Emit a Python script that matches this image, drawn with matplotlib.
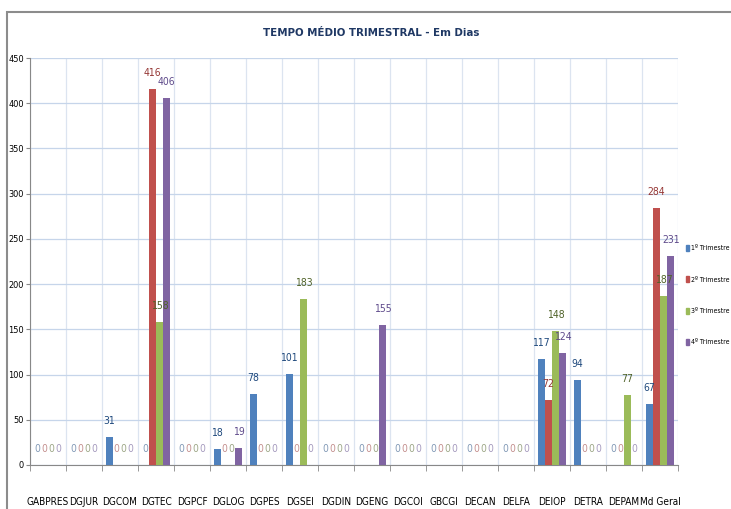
import matplotlib
matplotlib.use("Agg")
import matplotlib.pyplot as plt
import numpy as np
from matplotlib.patches import Rectangle, Patch
from matplotlib import font_manager as fm

categories = ["GABPRES", "DGJUR", "DGCOM", "DGTEC", "DGPCF", "DGLOG", "DGPES", "DGSEI", "DGDIN",
              "DGENG", "DGCOI", "GBCGI", "DECAN", "DELFA", "DEIOP", "DETRA", "DEPAM", "Md Geral"]
t1 = [0, 0, 31, 0, 0, 18, 78, 101, 0, 0, 0, 0, 0, 0, 117, 94, 0, 67]
t2 = [0, 0, 0, 416, 0, 0, 0, 0, 0, 0, 0, 0, 0, 0, 72, 0, 0, 284]
t3 = [0, 0, 0, 158, 0, 0, 0, 183, 0, 0, 0, 0, 0, 0, 148, 0, 77, 187]
t4 = [0, 0, 0, 406, 0, 19, 0, 0, 0, 155, 0, 0, 0, 0, 124, 0, 0, 231]
series_names = ["1º Trimestre", "2º Trimestre", "3º Trimestre", "4º Trimestre"]
yticks = list(range(0, 451, 50))

colors = ["#4F81BD", "#C0504D", "#9BBB59", "#8064A2"]
label_colors = ["#1F497D", "#953735", "#4F6228", "#5F4B8B"]

# pick a condensed font if one is installed
cands = []
for f in fm.fontManager.ttflist:
    st = str(f.stretch).lower()
    nm = f.name.lower()
    if ("condensed" in st or "narrow" in nm or "condensed" in nm) and f.style == "normal":
        cands.append(f)
reg = [f for f in cands if f.weight in (400, "normal", "regular")]
pick = reg[0] if reg else (cands[0] if cands else None)
if pick is not None:
    cond_prop = fm.FontProperties(fname=pick.fname)
    scale = 1.0
else:
    cond_prop = fm.FontProperties(family="Liberation Sans")
    scale = 0.82

def fp(size):
    p = cond_prop.copy()
    p.set_size(size * scale)
    return p

bold_pick = [f for f in cands if f.weight in (700, "bold")]
if bold_pick:
    title_prop = fm.FontProperties(fname=bold_pick[0].fname, size=8.2)
else:
    title_prop = fp(8.2)
    title_prop.set_weight("bold")

fig = plt.figure(figsize=(7.31, 5.09), dpi=100)
ax = fig.add_axes([30/731, 1-465/509, 648/731, 407/509])

n = len(categories)
x = np.arange(n)
w = 0.2
data = [t1, t2, t3, t4]
for i, (vals, c, lc) in enumerate(zip(data, colors, label_colors)):
    pos = x + (i - 1.5) * w
    ax.bar(pos, vals, width=w, color=c, zorder=3)
    for p, v in zip(pos, vals):
        ax.annotate(str(v), (p, v), xytext=(0, 8), textcoords="offset points",
                    ha="center", va="bottom", fontproperties=fp(7.5), color=lc,
                    alpha=0.55 if v == 0 else 1.0, zorder=4)

ax.set_xlim(-0.5, n - 0.5)
ax.set_ylim(0, 450)
ax.set_yticks(yticks)
ax.set_yticklabels([str(t) for t in yticks])
for t in ax.get_yticklabels():
    t.set_fontproperties(fp(6.6))
ax.set_xticks(x)
ax.set_xticklabels(categories)
for t in ax.get_xticklabels():
    t.set_fontproperties(fp(7.2))
ax.tick_params(axis='x', length=0, pad=23)
ax.tick_params(axis='y', length=3, color="#888888", pad=1.5)
ax.set_xticks(np.arange(-0.5, n, 1), minor=True)
ax.tick_params(axis='x', which='minor', length=4, color="#888888")
ax.grid(True, axis='y', color="#C6D5EA", linewidth=0.9, zorder=0)
ax.grid(True, axis='x', which='minor', color="#DCE4F0", linewidth=0.9, zorder=0)
ax.grid(False, axis='x', which='major')
for s in ["top", "right"]:
    ax.spines[s].set_visible(False)
ax.spines["left"].set_color("#888888")
ax.spines["bottom"].set_color("#888888")

fig.text(371/731, 1-33/509, "TEMPO MÉDIO TRIMESTRAL - Em Dias", ha="center", va="center",
         fontproperties=title_prop, color="#1F3864")

handles = [Patch(color=c) for c in colors]
fig.legend(handles, series_names, loc="center left", bbox_to_anchor=(686/731, 1-295/509),
           frameon=False, prop=fp(5.0), handlelength=0.45, handleheight=1.0,
           handletextpad=0.25, labelspacing=3.6, borderaxespad=0, borderpad=0)

fig.patches.append(Rectangle((7/731, -0.05), 1.2, 1-12/509 + 0.05, transform=fig.transFigure,
                             fill=False, edgecolor="#8C8C8C", linewidth=1.5))

fig.savefig("out.png", dpi=100)
